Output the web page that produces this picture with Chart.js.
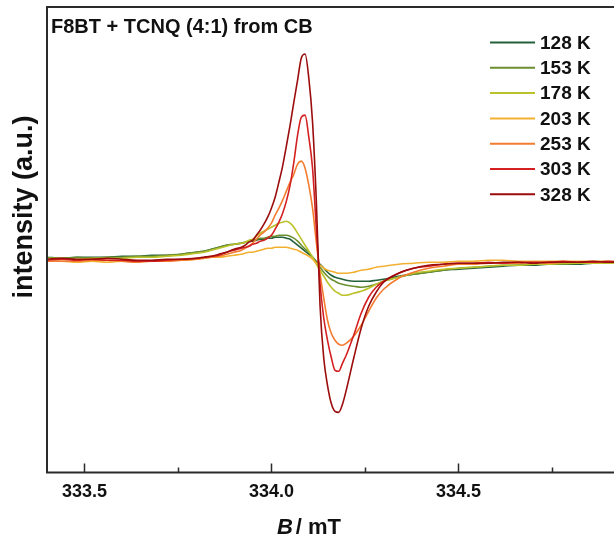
<!DOCTYPE html>
<html><head><meta charset="utf-8">
<script src="https://cdn.jsdelivr.net/npm/chart.js@4/dist/chart.umd.min.js"></script>
<style>html,body{margin:0;padding:0;background:#fff;overflow:hidden}#wrap{width:614px;height:545px;position:relative}</style>
</head><body><div id="wrap"><canvas id="c" width="614" height="545"></canvas></div>
<script>
// magnetic field grid (mT)
const fieldB = [333.40,333.44,333.48,333.52,333.56,333.60,333.64,333.68,333.72,333.76,333.80,
  333.82,333.84,333.86,333.88,333.90,333.92,
  333.93,333.94,333.95,333.96,333.97,333.98,333.99,334.00,334.01,334.02,334.03,334.04,334.05,334.06,334.07,334.08,334.09,334.10,334.11,334.12,334.13,334.14,334.15,334.16,334.17,334.18,334.19,334.20,
  334.22,334.24,334.26,334.28,334.30,
  334.34,334.38,334.42,334.46,334.50,334.54,334.58,334.62,334.66,334.70,334.74,334.78,334.82,334.86,334.90,334.94];

const temps = ['128 K','153 K','178 K','203 K','253 K','303 K','328 K'];
const colors = ['#24603a','#6b8f2e','#bcc22a','#f2b030','#f47c30','#d42020','#9b0d0d'];

// EPR intensities (a.u.)
const s128 = [3,2,3,3,3,4,4,5,5,6, 8,9,11,13,15,16,17,18,19,19, 20,21,21,22,22,23,23,23,22,21,
  18,15,12,9,6,3,-1,-4,-8,-12, -15,-17,-18,-19,-20,-21,-21,-21,-20,-19, -16,-14,-12,-10,-9,-8,-7,-6,-5,-5, -4,-4,-4,-3,-3,-3];
const s153 = [2,2,3,2,3,3,4,4,5,6, 8,9,11,13,15,16,17,18,19,20, 21,22,22,23,24,24,25,25,25,24,
  22,19,15,11,8,3,-2,-7,-12,-16, -19,-21,-23,-24,-25,-26,-27,-26,-24,-21, -17,-14,-12,-10,-8,-7,-6,-5,-5,-4, -4,-4,-3,-3,-3,-3];
const s178 = [2,2,1,2,2,2,3,3,4,5, 7,8,10,12,14,16,17,18,20,21, 24,27,29,31,33,35,37,38,39,37,
  33,27,21,15,9,3,-4,-10,-16,-22, -27,-31,-33,-35,-35,-33,-31,-28,-24,-21, -17,-13,-11,-9,-8,-7,-6,-5,-5,-4, -4,-3,-3,-3,-3,-3];
const s203 = [-1,-1,-2,-1,-2,-1,-1,-1,0,0, 1,2,3,3,4,5,6,7,8,8, 9,10,11,12,12,13,13,13,13,12,
  11,10,8,6,4,1,-3,-5,-8,-10, -11,-12,-13,-13,-13,-12,-10,-9,-7,-6, -4,-3,-2,-2,-1,-1,0,0,-1,-1, -1,-1,-1,-1,-1,-2];
const s253 = [-1,-1,-1,0,0,-1,-2,-1,-1,0, 1,2,3,4,6,8,10,12,14,17, 21,25,28,32,37,45,52,60,69,78,
  86,96,99,92,75,52,18,-13,-38,-60, -73,-80,-84,-85,-83,-76,-65,-51,-38,-29, -18,-12,-8,-6,-4,-4,-3,-3,-3,-2, -3,-2,-2,-2,-2,-2];
const s303 = [0,1,0,1,0,0,-1,-1,0,1, 2,3,4,5,8,10,12,13,14,16, 17,19,20,22,25,31,38,47,59,75,
  98,125,143,145,123,92,32,-23,-58,-80, -97,-110,-111,-103,-95,-75,-53,-37,-27,-21, -13,-8,-6,-4,-3,-3,-2,-3,-2,-2, -2,-1,-2,-2,-1,-2];
const s328 = [1,2,1,1,2,1,0,0,1,1, 2,3,4,6,8,11,13,15,18,20, 25,30,36,43,52,63,78,94,114,135,
  158,180,202,206,182,138,60,-45,-98,-125, -143,-151,-152,-144,-130,-98,-68,-46,-32,-22, -13,-8,-5,-4,-3,-3,-3,-2,-2,-3, -2,-2,-2,-1,-2,-2];

const series = [s128,s153,s178,s203,s253,s303,s328];
const majorTicks = [333.5, 334.0, 334.5];
const minorTicks = [333.75, 334.25, 334.75];

const FONT = '"Liberation Sans", Arial, sans-serif';

const datasets = series.map((s,i)=>({
  label: temps[i],
  data: fieldB.map((b,j)=>({x:b, y:s[j]})),
  borderColor: colors[i],
  borderWidth: 1.6,
  pointRadius: 0,
  cubicInterpolationMode: 'monotone',
  fill: false,
  order: series.length - 1 - i
}));

const decor = {
  id: 'decor',
  afterDraw(chart){
    const ctx = chart.ctx, a = chart.chartArea, xs = chart.scales.x;
    ctx.save();
    // frame
    ctx.strokeStyle = '#2b2b2b'; ctx.lineWidth = 2;
    ctx.beginPath();
    ctx.moveTo(a.left, a.bottom); ctx.lineTo(a.left, a.top); ctx.lineTo(chart.width+5, a.top);
    ctx.moveTo(a.left-1, a.bottom); ctx.lineTo(chart.width+5, a.bottom);
    ctx.stroke();
    // inward ticks
    ctx.lineWidth = 1.5;
    ctx.beginPath();
    majorTicks.forEach(v=>{const p=Math.round(xs.getPixelForValue(v))+0.5; ctx.moveTo(p,a.bottom); ctx.lineTo(p,a.bottom-9);});
    minorTicks.forEach(v=>{const p=Math.round(xs.getPixelForValue(v))+0.5; ctx.moveTo(p,a.bottom); ctx.lineTo(p,a.bottom-5);});
    ctx.stroke();
    // title
    ctx.fillStyle = '#111';
    ctx.font = 'bold 20px ' + FONT;
    ctx.textAlign = 'left'; ctx.textBaseline = 'alphabetic';
    ctx.fillText('F8BT + TCNQ (4:1) from CB', 51, 33);
    // legend
    ctx.font = 'bold 19px ' + FONT;
    ctx.textBaseline = 'middle';
    temps.forEach((t,i)=>{
      const y = 42.5 + i*25.3;
      ctx.strokeStyle = colors[i]; ctx.lineWidth = 2;
      ctx.beginPath(); ctx.moveTo(490,y); ctx.lineTo(535,y); ctx.stroke();
      ctx.fillStyle = '#111';
      ctx.fillText(t, 540, y+1);
    });
    // y title
    ctx.save();
    ctx.translate(32, 207); ctx.rotate(-Math.PI/2);
    ctx.textAlign = 'center'; ctx.textBaseline = 'alphabetic';
    ctx.font = 'bold 27px ' + FONT;
    ctx.fillText('intensity (a.u.)', 0, 0);
    ctx.restore();
    // x title: italic B / mT
    ctx.textBaseline = 'alphabetic'; ctx.textAlign = 'left';
    ctx.font = 'italic bold 22px ' + FONT;
    const bw = ctx.measureText('B').width;
    ctx.font = 'bold 22px ' + FONT;
    const rw = ctx.measureText('/ mT').width;
    const total = bw + 3 + rw;
    const x0 = 309 - total/2;
    ctx.font = 'italic bold 22px ' + FONT;
    ctx.fillText('B', x0, 534);
    ctx.font = 'bold 22px ' + FONT;
    ctx.fillText('/ mT', x0 + bw + 3, 534);
    ctx.restore();
  }
};

new Chart(document.getElementById('c'), {
  type: 'line',
  data: { datasets },
  options: {
    responsive: false,
    animation: false,
    events: [],
    layout: { padding: { left: 47, top: 7, right: 0, bottom: 33 } },
    plugins: { legend: { display: false }, tooltip: { enabled: false } },
    scales: {
      x: {
        type: 'linear', min: 333.4, max: 334.916,
        afterBuildTicks: s => { s.ticks = majorTicks.map(v=>({value:v})); },
        ticks: { color: '#111', font: { family: FONT, size: 18, weight: 'bold' }, padding: 9,
          maxRotation: 0, autoSkip: false, callback: v => Number(v).toFixed(1) },
        grid: { display: false, drawTicks: false },
        border: { display: false }
      },
      y: {
        display: false, min: -212, max: 253
      }
    }
  },
  plugins: [decor]
});
</script></body></html>
